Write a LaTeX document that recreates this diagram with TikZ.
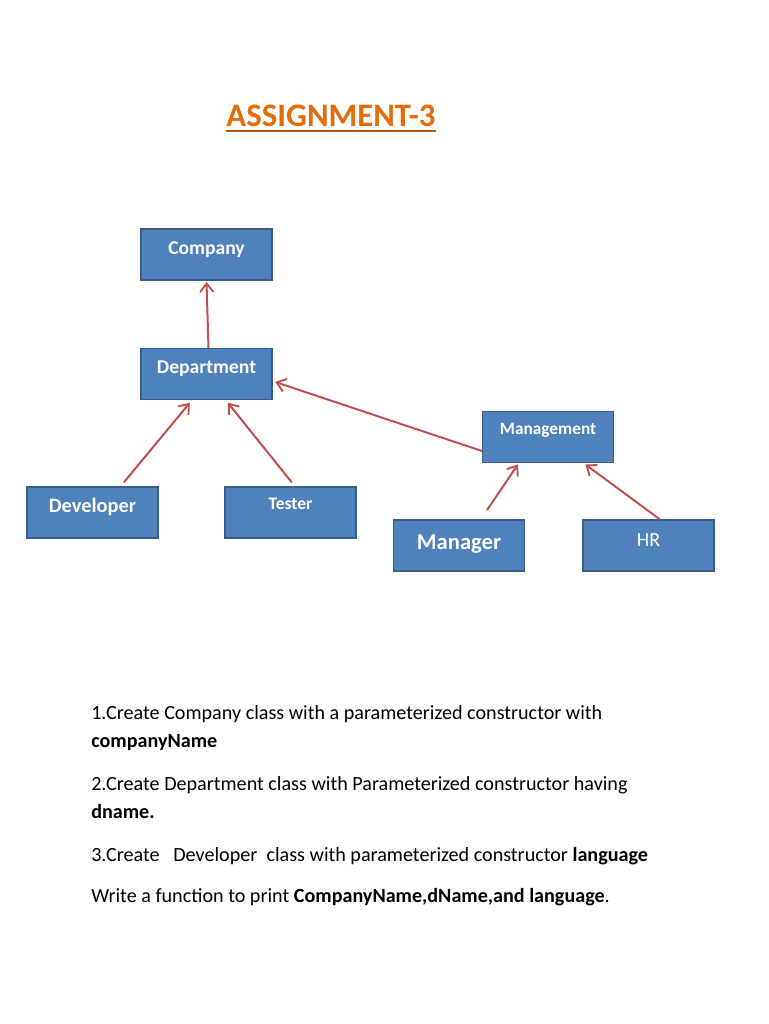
\documentclass[tikz,border=0pt]{standalone}
\usepackage{fontspec}
\setmainfont{Carlito}
\usetikzlibrary{arrows.meta,calc}
\definecolor{boxfill}{HTML}{4F81BD}
\definecolor{boxline}{HTML}{385D8A}
\definecolor{arrowred}{HTML}{C0504D}
\definecolor{titleorange}{HTML}{E46C0A}
\definecolor{titleline}{HTML}{B85A16}
\tikzset{
  box/.style={draw=boxline, fill=boxfill, line width=1.1pt, minimum width=98pt, minimum height=38pt, inner sep=0pt},
  boxtxt/.style={text=white, font=\bfseries, anchor=base, inner sep=0pt},
  link/.style={draw=arrowred, line width=1.5pt, -{Straight Barb[length=6.5pt,width=10pt,line width=1.4pt]}},
  body/.style={anchor=base west, inner sep=0pt, font=\fontsize{15.1}{17}\selectfont}
}
\begin{document}
\begin{tikzpicture}[x=0.75pt,y=-0.75pt]
\useasboundingbox[fill=white] (0,0) rectangle (768,1024);
% title
\node[anchor=base, inner sep=0pt, text=titleorange, font=\fontsize{24.6}{28}\selectfont\bfseries] (title) at (331,126) {ASSIGNMENT-3};
\draw[titleline, line width=1.2pt] (226,131) -- (436,131);
% boxes
\node[box, label={[boxtxt, font=\fontsize{14.7}{16}\selectfont\bfseries, yshift=-19.5pt]north:Company}] (company) at (206.5,254.5) {};
\node[box, label={[boxtxt, font=\fontsize{14.7}{16}\selectfont\bfseries, yshift=-19.5pt]north:Department}] (dept) at (206.5,374) {};
\node[box, label={[boxtxt, font=\fontsize{13}{14}\selectfont\bfseries, yshift=-17.5pt]north:Management}] (mgmt) at (548,437) {};
\node[box, label={[boxtxt, font=\fontsize{15.3}{18}\selectfont\bfseries, yshift=-19.5pt]north:Developer}] (dev) at (92.5,512.5) {};
\node[box, label={[boxtxt, font=\fontsize{13.2}{14}\selectfont\bfseries, yshift=-17.5pt]north:Tester}] (tester) at (290.5,512.5) {};
\node[box, label={[boxtxt, font=\fontsize{17}{20}\selectfont\bfseries, yshift=-22.5pt]north:Manager}] (manager) at (459,545.5) {};
\node[box, label={[boxtxt, font=\fontsize{15}{18}\selectfont, yshift=-20.2pt]north:HR}] (hr) at (648.5,545.5) {};
% connectors
\draw[link] ($(dept.north)+(1.5pt,0)$) -- ($(company.south)+(0,-1pt)$);
\draw[link] ($(mgmt.west)+(0,-10.5pt)$) -- ($(dept.east)+(2pt,-6pt)$);
\draw[link] ($(dev.north)+(23.5pt,3pt)$) -- ($(dept.south)+(-12.5pt,-2pt)$);
\draw[link] ($(tester.north)+(1pt,3pt)$) -- ($(dept.south)+(16pt,-2pt)$);
\draw[link] ($(manager.north)+(21pt,7pt)$) -- ($(mgmt.south)+(-22.5pt,-1pt)$);
\draw[link] ($(hr.north)+(8.6pt,0)$) -- ($(mgmt.south)+(28pt,-1pt)$);
% body text
\node[body] (l1) at (91,719) {1.Create Company class with a parameterized constructor with};
\node[body] (l2) at (91,747) {\textbf{companyName}};
\node[body] (l3) at (91,790) {2.Create Department class with Parameterized constructor having};
\node[body] (l4) at (91,818) {\textbf{dname.}};
\node[body] (l5) at (91,861) {3.Create\ \ \ Developer\ \ class with parameterized constructor \textbf{language}};
\node[body] (l6) at (91,902) {Write a function to print \textbf{CompanyName,dName,and language}.};
\end{tikzpicture}
\end{document}
